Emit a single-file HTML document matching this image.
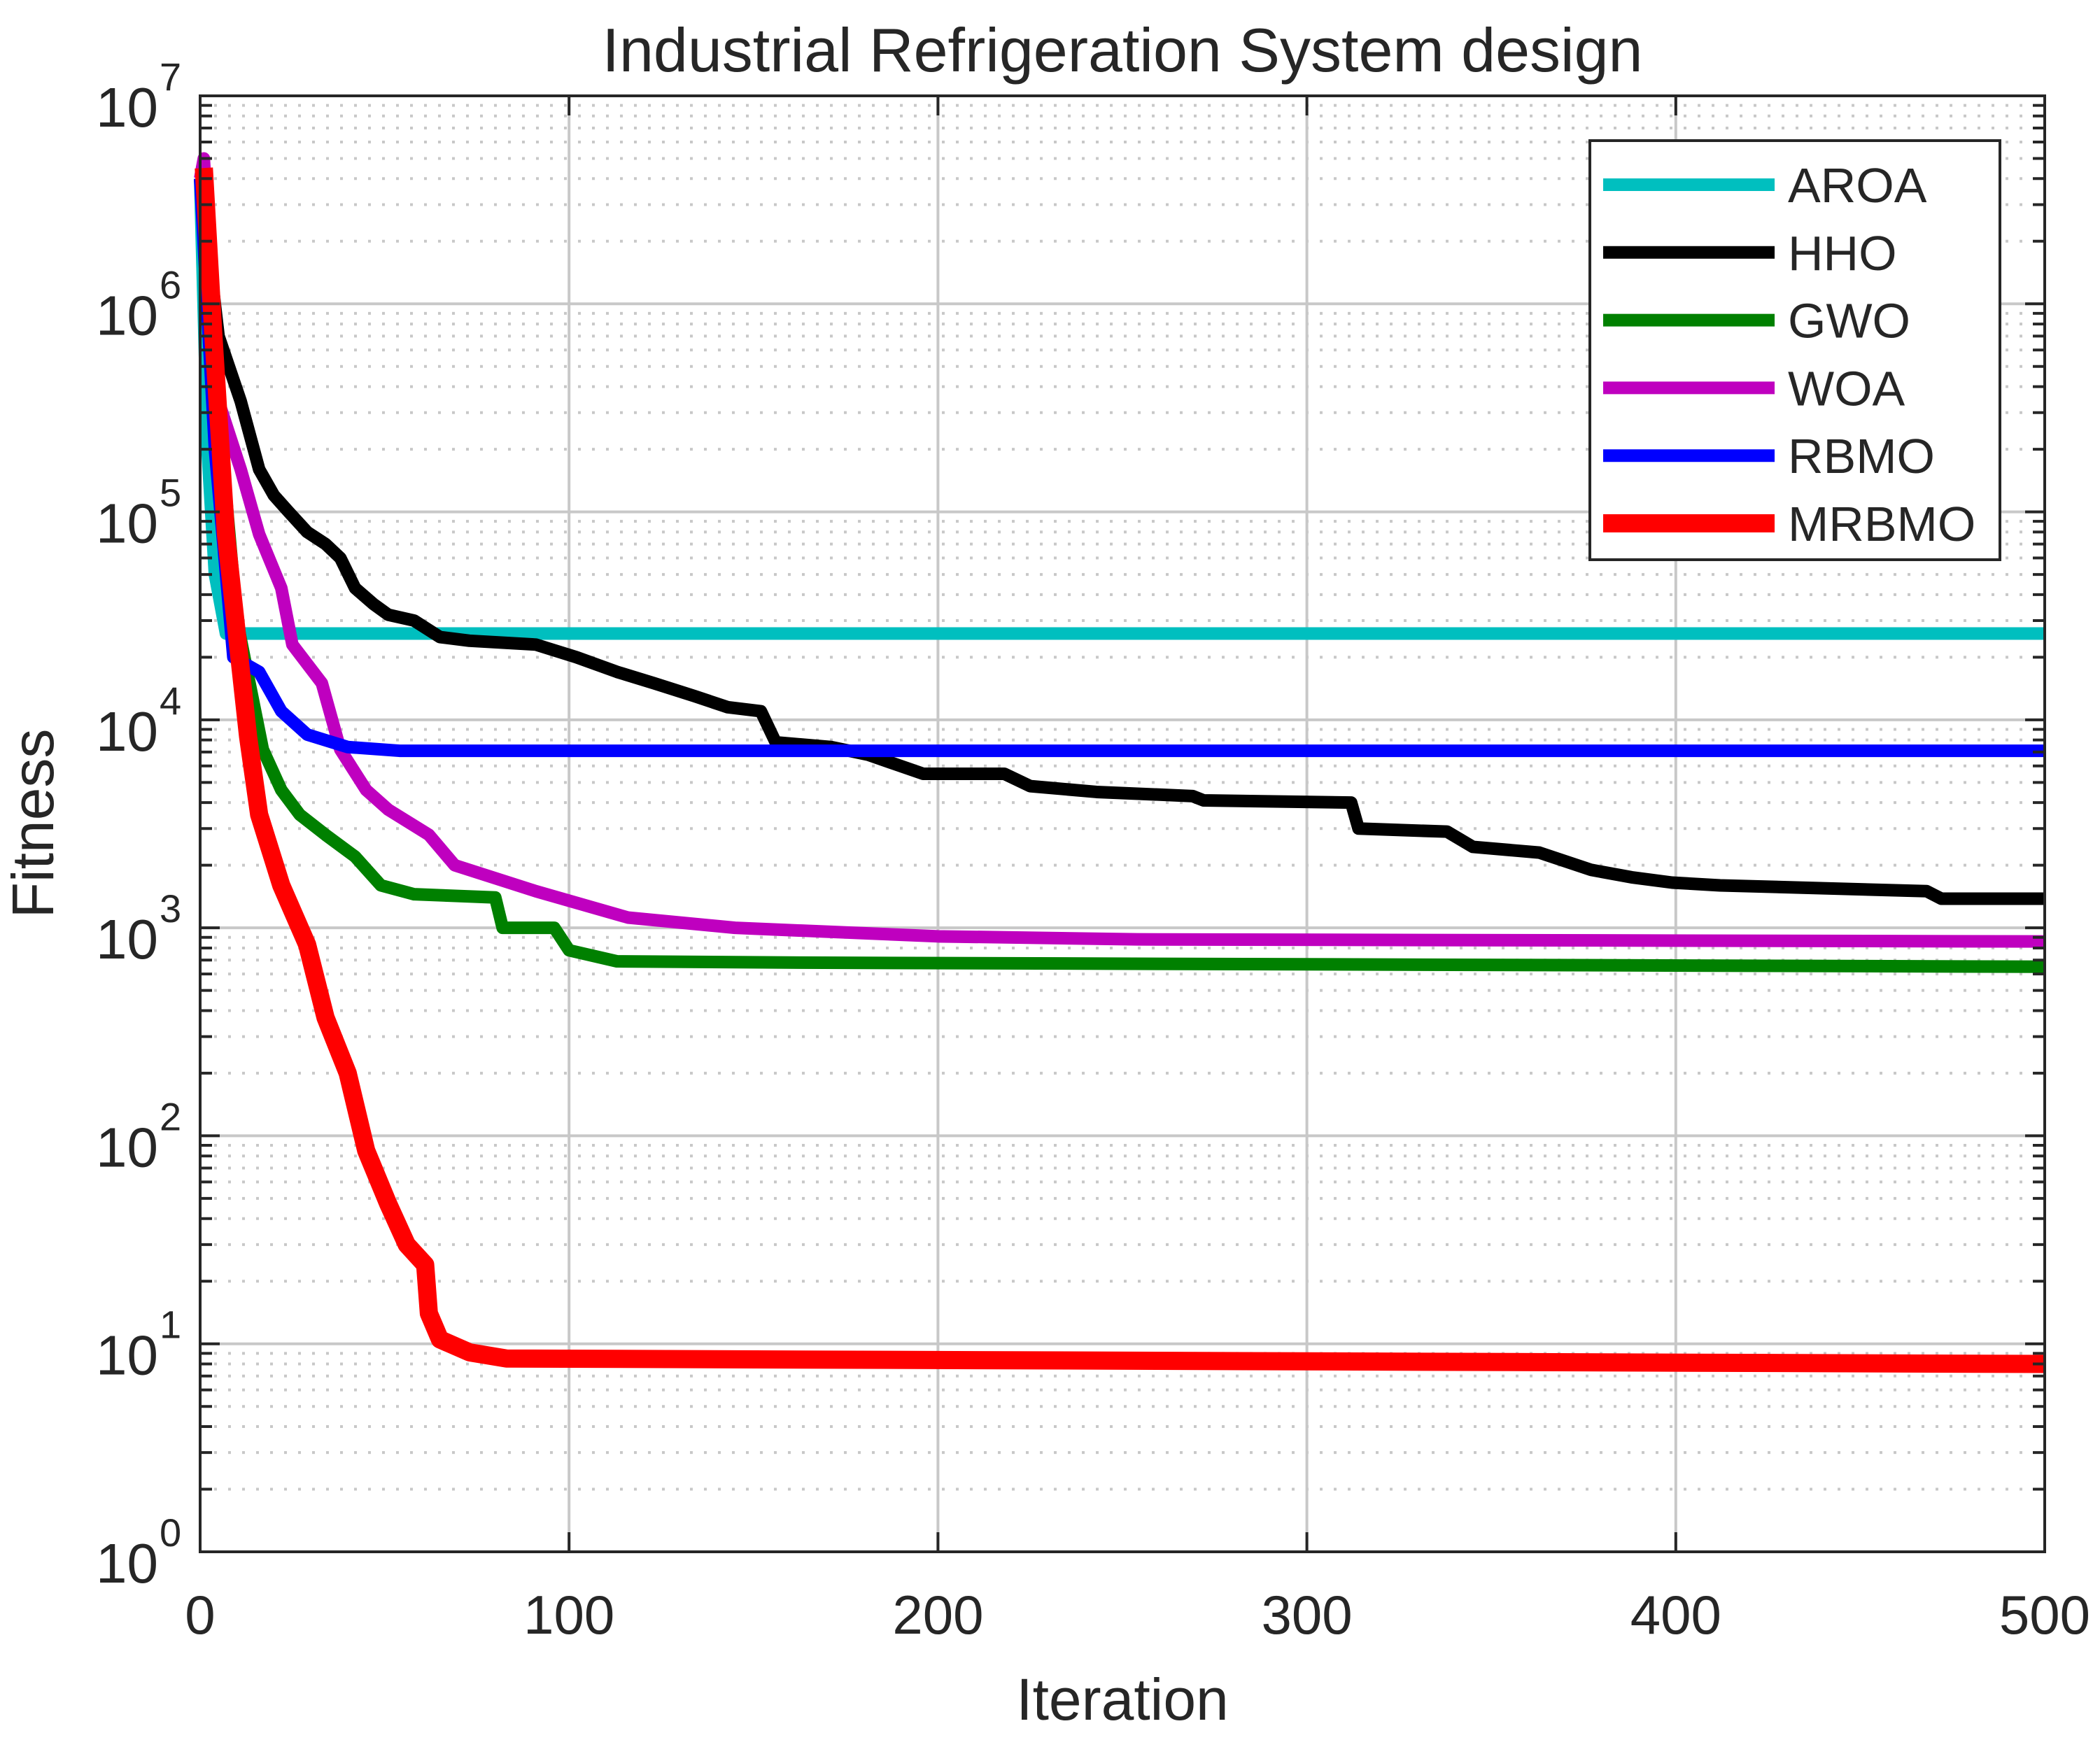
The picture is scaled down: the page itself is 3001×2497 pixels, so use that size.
<!DOCTYPE html>
<html><head><meta charset="utf-8"><style>
html,body{margin:0;padding:0;background:#fff;}
svg text{font-family:"Liberation Sans",Arial,sans-serif;fill:#262626;}
</style></head><body>
<svg id="chart" xmlns="http://www.w3.org/2000/svg" width="3001" height="2492" viewBox="0 0 3001 2492">
<rect width="3001" height="2492" fill="#fff"/>
<g id="grid"></g>
<g id="series"></g>
<g id="axes"></g>
<text x="1604" y="102" font-size="88" text-anchor="middle">Industrial Refrigeration System design</text>
<text x="1604" y="2458" font-size="84" text-anchor="middle">Iteration</text>
<text x="0" y="0" font-size="84" text-anchor="middle" transform="translate(76,1177) rotate(-90)">Fitness</text>
<g id="legend"></g>
</svg>
<script>
const xTicks=[0,100,200,300,400,500];
const yDecades=[0,1,2,3,4,5,6,7];
const seriesNames=["AROA","HHO","GWO","WOA","RBMO","MRBMO"];
const seriesColors=["#00bfbf","#000000","#008000","#bf00bf","#0000ff","#ff0000"];
const seriesWidths=[18,18,18,18,18,26];
const aroaIter=[0,2,4,7,500];
const aroaVal=[4e6,2e5,5e4,2.6e4,2.6e4];
const hhoIter=[0,5,11,16,20,24,29,34,38,42,47,51,58,65,73,91,102,113,123,134,143,152,156,171,181,196,218,225,243,269,272,312,314,338,345,363,377,388,399,412,468,472,500];
const hhoVal=[4e6,7e5,3.4e5,1.6e5,1.2e5,1.0e5,8e4,7e4,6e4,4.3e4,3.6e4,3.2e4,3.0e4,2.5e4,2.4e4,2.3e4,2.0e4,1.7e4,1.5e4,1.3e4,1.15e4,1.1e4,7.8e3,7.4e3,6.8e3,5.5e3,5.5e3,4.8e3,4.5e3,4.3e3,4.1e3,4.0e3,3.0e3,2.9e3,2.45e3,2.3e3,1.9e3,1.75e3,1.65e3,1.6e3,1.5e3,1.38e3,1.38e3];
const gwoIter=[0,5,10,17,22,27,34,42,49,58,80,82,96,100,113,163,500];
const gwoVal=[4e6,3e5,3e4,7.2e3,4.6e3,3.5e3,2.8e3,2.2e3,1.6e3,1.45e3,1.4e3,1.0e3,1.0e3,780,690,680,650];
const woaIter=[0,1,5,11,16,22,25,33,38,45,51,62,69,91,116,145,200,254,500];
const woaVal=[4e6,5e6,3.4e5,1.6e5,7.8e4,4.3e4,2.3e4,1.5e4,7.2e3,4.6e3,3.7e3,2.8e3,2.0e3,1.5e3,1.12e3,1.0e3,910,880,860];
const rbmoIter=[0,4,9,16,22,29,40,54,500];
const rbmoVal=[4e6,2e5,2.0e4,1.7e4,1.1e4,8.5e3,7.4e3,7.1e3,7.1e3];
const mrbmoIter=[1,3.6,7,13,16,22,29,34,40,45,51,56,61,62,65,73,83,500];
const mrbmoVal=[4.5e6,7e5,7.8e4,8.3e3,3.5e3,1.6e3,830,370,200,85,47,30,24,14,10.5,9.1,8.5,8.0];
const allIter=[aroaIter,hhoIter,gwoIter,woaIter,rbmoIter,mrbmoIter];
const allVal=[aroaVal,hhoVal,gwoVal,woaVal,rbmoVal,mrbmoVal];

const L=286,R=2922,T=137,B=2218;
const NS="http://www.w3.org/2000/svg";
function xs(v){return L+(v-0)/(500-0)*(R-L);}
function ys(v){return B-(Math.log10(v)-0)/(7-0)*(B-T);}
function mk(tag,attrs,parent){const e=document.createElementNS(NS,tag);for(const k in attrs)e.setAttribute(k,attrs[k]);parent.appendChild(e);return e;}
const grid=document.getElementById('grid'),axes=document.getElementById('axes'),ser=document.getElementById('series'),leg=document.getElementById('legend');
for(let d=0;d<7;d++){for(let m=2;m<=9;m++){const y=ys(m*Math.pow(10,d));
const g=mk('line',{x1:L+20,x2:R-20,y1:y,y2:y,stroke:'#c8c8c8','stroke-width':4,'stroke-dasharray':'4 16'},grid);


const t1=mk('line',{x1:L,x2:L+17,y1:y,y2:y,stroke:'#262626','stroke-width':4},axes);


const t2=mk('line',{x1:R-17,x2:R,y1:y,y2:y,stroke:'#262626','stroke-width':4},axes);

}}
yDecades.forEach(d=>{const y=ys(Math.pow(10,d));
const g=mk('line',{x1:L,x2:R,y1:y,y2:y,stroke:'#c8c8c8','stroke-width':4},grid);


const t1=mk('line',{x1:L,x2:L+28,y1:y,y2:y,stroke:'#262626','stroke-width':4},axes);


const t2=mk('line',{x1:R-28,x2:R,y1:y,y2:y,stroke:'#262626','stroke-width':4},axes);


const tx=mk('text',{x:226,y:y+44,'font-size':80,'text-anchor':'end'},axes);


tx.textContent='10';
const sp=mk('text',{x:228,y:y-8,'font-size':56,'text-anchor':'start'},axes);


sp.textContent=String(d);});
xTicks.forEach(v=>{const x=xs(v);
const g=mk('line',{x1:x,x2:x,y1:T,y2:B,stroke:'#c8c8c8','stroke-width':4},grid);


const t1=mk('line',{x1:x,x2:x,y1:B-28,y2:B,stroke:'#262626','stroke-width':4},axes);


const t2=mk('line',{x1:x,x2:x,y1:T,y2:T+28,stroke:'#262626','stroke-width':4},axes);


const tx=mk('text',{x:x,y:2335,'font-size':78,'text-anchor':'middle'},axes);


tx.textContent=String(v);});
const box=mk('rect',{x:L,y:T,width:R-L,height:B-T,fill:'none',stroke:'#262626','stroke-width':4},axes);


allIter.forEach((its,i)=>{const vals=allVal[i];
const pts=its.map((v,j)=>xs(v)+','+ys(vals[j])).join(' ');
const p=mk('polyline',{points:pts,fill:'none',stroke:seriesColors[i],'stroke-width':seriesWidths[i],'stroke-linejoin':'round'},ser);

});
const lb=mk('rect',{x:2272,y:201,width:586,height:599,fill:'#fff',stroke:'#262626','stroke-width':4},leg);


seriesNames.forEach((n,i)=>{const y=264+i*96.8;
const l=mk('line',{x1:2291,x2:2536,y1:y,y2:y,stroke:seriesColors[i],'stroke-width':seriesWidths[i]},leg);


const t=mk('text',{x:2555,y:y+25,'font-size':70},leg);


t.textContent=n;});
</script>
</body></html>
